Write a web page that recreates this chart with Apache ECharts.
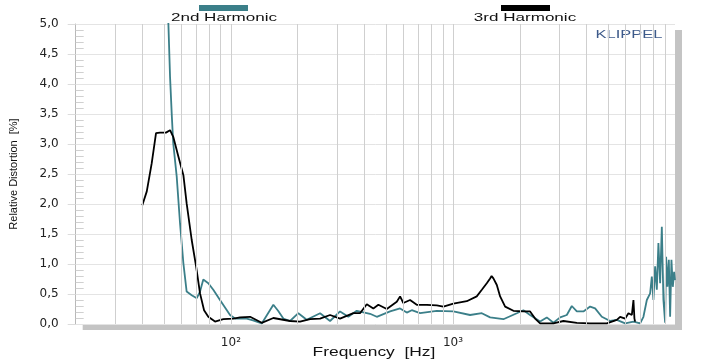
<!DOCTYPE html>
<html><head><meta charset="utf-8">
<script src="https://cdn.jsdelivr.net/npm/echarts@6/dist/echarts.min.js"></script>
<style>html,body{margin:0;padding:0;background:#fff}#c{width:710px;height:360px}</style>
</head><body><div id="c"></div>
<script>
// 2nd harmonic (teal)
const h2Freq = [51.3,52.3,53.2,54.2,55.0,57.0,59.0,61.1,63.2,66.6,70.2,72.6,75.1,79.1,83.3,89.3,99.1,104.4,117.8,125.8,137.7,155.3,163.1,172.2,184.6,201.2,219.5,252.1,279.6,310.1,338.0,368.7,423.3,453.8,521.0,578.0,619.4,652.3,711.0,845.6,1004.5,1194,1349,1470,1687,1939,2076,2225,2469,2646,2835,3038,3256,3430,3613,3869,4148,4367,4682,5104,5470,5964,6499,6966,7208,7467,7727,7864,7995,8138,8282,8420,8571,8723,8869,9027,9120,9245,9380,9507,9638,9776,9908,10000];
const h2Val = [5.6,5.0,4.12,3.46,3.01,2.46,1.68,1.01,0.54,0.48,0.43,0.54,0.74,0.68,0.57,0.40,0.15,0.09,0.09,0.06,0.01,0.32,0.22,0.09,0.05,0.18,0.07,0.18,0.05,0.21,0.12,0.22,0.17,0.12,0.21,0.26,0.19,0.23,0.18,0.22,0.21,0.15,0.18,0.11,0.08,0.18,0.23,0.15,0.04,0.11,0.02,0.11,0.15,0.30,0.21,0.21,0.29,0.26,0.12,0.05,0.07,0.01,0.04,0.01,0.12,0.40,0.51,0.79,0.40,0.96,0.57,1.35,0.68,1.62,0.40,0.02,1.12,0.62,1.07,0.12,1.07,0.62,0.87,0.73];
// 3rd harmonic (black)
const h3Freq = [39.9,41.8,44.0,46.0,47.9,51.0,53.2,54.2,55.0,58.0,61.1,63.2,66.6,69.7,72.6,75.7,79.1,84.8,92.4,102.6,110,122,137.7,155.3,184.6,204.8,227.2,252.1,279.6,310.1,356.0,381.6,409.1,438.0,461.4,503.5,558.5,578.0,597.8,641.0,687.1,762.2,845.6,905.8,1004.5,1154,1280,1349,1420,1470,1493,1521,1576,1631,1718,1872,2076,2225,2344,2469,2835,3144,3613,4148,4932,5470,5661,5964,6170,6392,6499,6566,6615];
const h3Val = [1.98,2.21,2.68,3.18,3.19,3.19,3.23,3.26,3.12,2.79,2.48,2.01,1.40,0.96,0.51,0.23,0.12,0.04,0.08,0.09,0.11,0.12,0.02,0.10,0.05,0.04,0.08,0.09,0.15,0.09,0.18,0.18,0.33,0.26,0.32,0.25,0.37,0.46,0.35,0.40,0.32,0.32,0.31,0.29,0.34,0.38,0.46,0.57,0.68,0.76,0.80,0.76,0.65,0.46,0.29,0.22,0.21,0.21,0.09,0.01,0.01,0.05,0.02,0.01,0.01,0.07,0.12,0.09,0.18,0.15,0.40,0.09,0.04];
// axis
const xMin = 20, xMax = 10000;
const xLabelFreqs = [100, 1000];
const xLabelTexts = ['10²', '10³'];
const gridFreqs = [30,40,50,60,70,80,90,100,200,300,400,500,600,700,800,900,1000,2000,3000,4000,5000,6000,7000,8000,9000];
const yMin = 0, yMax = 5, yStep = 0.5;
const seriesNames = ['2nd Harmonic', '3rd Harmonic'];
const seriesColors = ['#3b7f89', '#000000'];

const zip = (a, b) => a.map((v, i) => [v, b[i]]);
const chart = echarts.init(document.getElementById('c'), null, {renderer: 'canvas'});
const font = 'Liberation Sans';
chart.setOption({
  animation: false,
  backgroundColor: '#fff',
  grid: {left: 75.7, right: 35, top: 24, bottom: 36, outerBoundsMode: 'none', containLabel: false,
         show: true, backgroundColor: '#fff', borderWidth: 0,
         shadowColor: '#c4c4c4', shadowBlur: 0, shadowOffsetX: 7, shadowOffsetY: 6},
  legend: [
    {data: [seriesNames[0]], left: 199, top: 5, padding: 0, icon: 'rect', itemWidth: 49, itemHeight: 6, formatter: () => '', selectedMode: false},
    {data: [seriesNames[1]], left: 501, top: 5, padding: 0, icon: 'rect', itemWidth: 49, itemHeight: 6, formatter: () => '', selectedMode: false}
  ],
  xAxis: {
    type: 'log', logBase: 10, min: xMin, max: xMax,
    axisLine: {show: false}, axisTick: {show: false}, splitLine: {show: false},
    axisLabel: {
      margin: 13, color: '#222', fontFamily: 'DejaVu Sans', fontSize: 12,
      showMinLabel: false, showMaxLabel: false,
      formatter: v => { const i = xLabelFreqs.findIndex(f => Math.abs(f - v) / f < 1e-6); return i >= 0 ? xLabelTexts[i] : ''; }
    }
  },
  yAxis: {
    type: 'value', min: yMin, max: yMax, interval: yStep,
    axisLine: {show: true, lineStyle: {color: '#b8b8b8'}},
    axisTick: {show: true, inside: false, length: 8, lineStyle: {color: '#dcdcdc'}},
    minorTick: {show: true, splitNumber: 5, length: -8, lineStyle: {color: '#d0d0d0'}},
    splitLine: {show: true, lineStyle: {color: '#e4e4e4'}},
    axisLabel: {margin: 17, color: '#222', fontFamily: 'DejaVu Sans', fontSize: 12,
      formatter: v => v.toFixed(1).replace('.', ',')},
    name: 'Relative Distortion  [%]', nameLocation: 'middle', nameGap: 56, nameRotate: 90,
    nameTextStyle: {fontFamily: font, fontSize: 11, color: '#111'}
  },
  graphic: [
    {type: 'text', x: 224, y: 18, scaleX: 1.55, style: {text: seriesNames[0], font: '11px "Liberation Sans"', fill: '#111', textAlign: 'center', textVerticalAlign: 'middle'}},
    {type: 'text', x: 525, y: 18, scaleX: 1.55, style: {text: seriesNames[1], font: '11px "Liberation Sans"', fill: '#111', textAlign: 'center', textVerticalAlign: 'middle'}},
    {type: 'text', x: 629, y: 35, scaleX: 1.65, style: {text: 'KLIPPEL', font: '10px "Liberation Sans"', fill: '#3d5a8a', textAlign: 'center', textVerticalAlign: 'middle'}},
    {type: 'text', x: 374, y: 353, scaleX: 1.45, style: {text: 'Frequency  [Hz]', font: '12px "Liberation Sans"', fill: '#111', textAlign: 'center', textVerticalAlign: 'middle'}}
  ],
  series: [
    {type: 'line', name: 'grid', data: [], z: 1, silent: true,
     markLine: {silent: true, symbol: ['none', 'none'], label: {show: false},
       lineStyle: {color: '#cfcfcf', type: 'solid', width: 1},
       data: gridFreqs.map(f => ({xAxis: f}))}},
    {type: 'line', name: seriesNames[0], data: zip(h2Freq, h2Val), showSymbol: false, z: 3,
     itemStyle: {color: seriesColors[0]}, lineStyle: {color: seriesColors[0], width: 1.8}},
    {type: 'line', name: seriesNames[1], data: zip(h3Freq, h3Val), showSymbol: false, z: 4,
     itemStyle: {color: seriesColors[1]}, lineStyle: {color: seriesColors[1], width: 1.8}}
  ]
});
</script></body></html>
